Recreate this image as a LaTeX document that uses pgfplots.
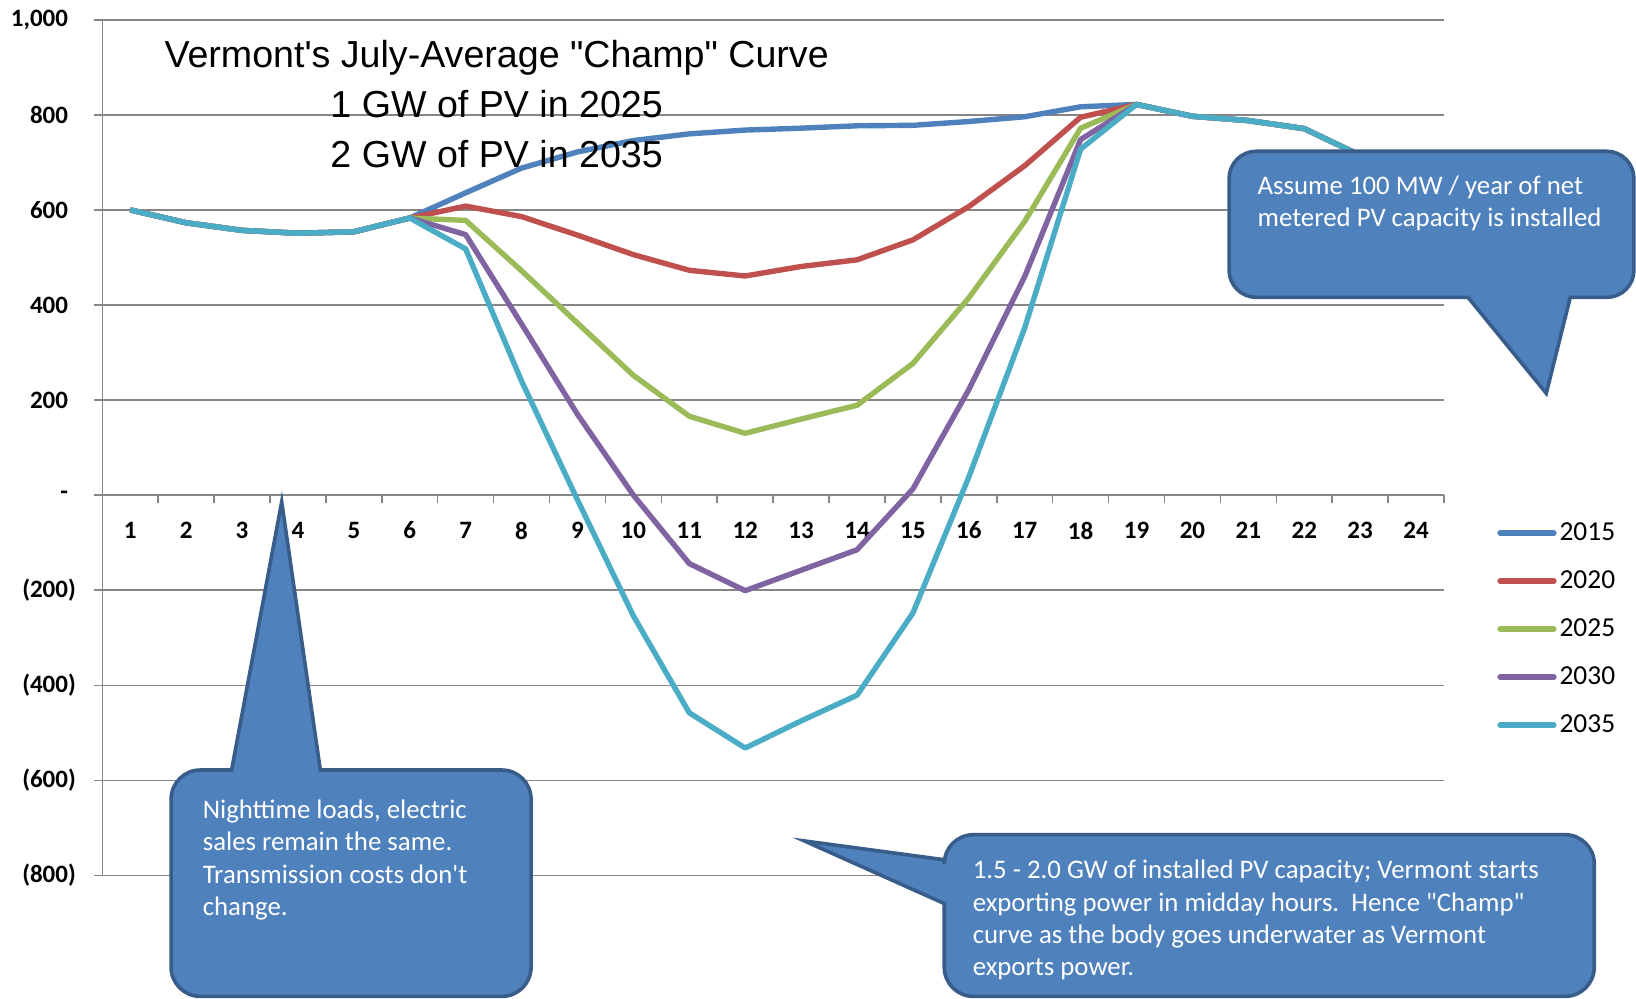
\documentclass[border=0pt]{standalone}
\usepackage{pgfplots}
\pgfplotsset{compat=1.18}
\usepackage{pgfplotstable}
\usepackage{fontspec}
\setmainfont{Carlito}
\newfontfamily\arialfont{Liberation Sans}

\definecolor{c2015}{HTML}{4F81BD}
\definecolor{c2020}{HTML}{C0504D}
\definecolor{c2025}{HTML}{9BBB59}
\definecolor{c2030}{HTML}{8064A2}
\definecolor{c2035}{HTML}{4BACC6}
\definecolor{gridgray}{HTML}{868686}
\definecolor{boxfill}{HTML}{4F81BD}
\definecolor{boxline}{HTML}{385D8A}

% hourly load (MW), July average
\pgfplotstableread{
h y2015 y2020 y2025 y2030 y2035
1 600 600 600 600 600
2 573 573 573 573 573
3 557 557 557 557 557
4 551 551 551 551 551
5 554 554 554 554 554
6 583 583 583 583 583
7 636 608 578 548 518
8 688 586 472 360 240
9 722 547 362 170 -10
10 746 506 252 0 -254
11 760 473 166 -144 -458
12 768 461 130 -201 -532
13 772 481 160 -158 -475
14 777 495 189 -115 -421
15 778 537 277 13 -248
16 786 607 415 222 38
17 796 693 576 460 352
18 817 795 772 748 728
19 822 822 822 822 822
20 797 797 797 797 797
21 788 788 788 788 788
22 771 771 771 771 771
23 715 715 715 715 715
24 650 650 650 650 650
}\loads

\begin{document}
\begin{tikzpicture}
\begin{axis}[
  at={(51.13pt,61.56pt)}, anchor=south west,
  scale only axis, width=670.9pt, height=427.8pt,
  clip=false,
  xmin=0.5, xmax=24.5, ymin=-800, ymax=1000,
  axis x line*=middle, axis y line*=left,
  axis line style={draw=gridgray, line width=0.75pt},
  tick align=outside,
  major tick length=4.2pt, minor tick length=3.8pt,
  xtick={1,...,24},
  xticklabels={1,2,3,4,5,6,7,8,9,10,11,12,13,14,15,16,17,18,19,20,21,22,23,24},
  minor xtick={0.5,1.5,...,24.5},
  major x tick style={draw=none},
  minor x tick style={draw=gridgray, line width=0.75pt},
  ytick={-800,-600,...,1000},
  yticklabels={{(800)},{(600)},{(400)},{(200)},{-\hphantom{)}},{200\hphantom{)}},{400\hphantom{)}},{600\hphantom{)}},{800\hphantom{)}},{1,000\hphantom{)}}},
  ytick style={draw=gridgray, line width=0.75pt},
  ymajorgrids=true,
  grid style={draw=gridgray, line width=0.75pt},
  ticklabel style={font=\bfseries\fontsize{12.5}{15}\selectfont, inner sep=0pt},
  xticklabel style={anchor=center, yshift=-13.5pt},
  yticklabel style={anchor=east, xshift=-8.8pt},
  every axis plot/.append style={line width=2.7pt, line join=round, mark=none},
  legend image code/.code={\draw[line width=2.6pt, line cap=round] (0pt,0pt) -- (27pt,0pt);},
  legend cell align=left,
  legend style={draw=none, fill=none, at={(1.0350,0.2880)}, anchor=west,
    font=\fontsize{13.7}{16}\selectfont,
    nodes={inner sep=1.5pt, minimum height=24pt}, row sep=0pt},
]
\addplot[c2015] table[x=h, y=y2015] {\loads};
\addlegendentry{2015}
\addplot[c2020] table[x=h, y=y2020] {\loads};
\addlegendentry{2020}
\addplot[c2025] table[x=h, y=y2025] {\loads};
\addlegendentry{2025}
\addplot[c2030] table[x=h, y=y2030] {\loads};
\addlegendentry{2030}
\addplot[c2035] table[x=h, y=y2035] {\loads};
\addlegendentry{2035}
\end{axis}

\begin{scope}[x=0.5217pt, y=0.5217pt]
  % title
  \node[align=center, font=\arialfont\fontsize{18.8}{25}\selectfont] at (476,857)
    {Vermont\textquotesingle s July-Average \textquotedbl Champ\textquotedbl{} Curve\\1 GW of PV in 2025\\2 GW of PV in 2035};

  \tikzset{callout/.style={fill=boxfill, draw=boxline, line width=1.8pt, line join=miter}}
  \tikzset{callouttext/.style={anchor=north west, align=left, text=white, inner sep=0pt,
    font=\fontsize{13.4}{16.2}\selectfont}}

  % top right callout, pointer downwards
  \def\r{26}
  \path[callout] (1482,580) -- (1407,672) -- (1178+\r,672)
    arc[start angle=270, end angle=180, radius=\r] -- (1178,812-\r)
    arc[start angle=180, end angle=90, radius=\r] -- (1566-\r,812)
    arc[start angle=90, end angle=0, radius=\r] -- (1566,672+\r)
    arc[start angle=0, end angle=-90, radius=\r] -- (1505,672) -- cycle;
  \node[callouttext] at (1205,789) {Assume 100 MW / year of net\\metered PV capacity is installed};

  % bottom left callout, pointer upwards
  \def\r{28}
  \path[callout] (270,476) -- (307,219) -- (509-\r,219)
    arc[start angle=90, end angle=0, radius=\r] -- (509,2+\r)
    arc[start angle=0, end angle=-90, radius=\r] -- (164+\r,2)
    arc[start angle=270, end angle=180, radius=\r] -- (164,219-\r)
    arc[start angle=180, end angle=90, radius=\r] -- (222,219) -- cycle;
  \node[callouttext] at (194,191) {Nighttime loads, electric\\sales remain the same.\\Transmission costs don\textquotesingle t\\change.};

  % bottom right callout, pointer to the left
  \def\r{28}
  \path[callout] (771,151) -- (905,133) -- (905,157-\r)
    arc[start angle=180, end angle=90, radius=\r] -- (1528-\r,157)
    arc[start angle=90, end angle=0, radius=\r] -- (1528,2+\r)
    arc[start angle=0, end angle=-90, radius=\r] -- (905+\r,2)
    arc[start angle=270, end angle=180, radius=\r] -- (905,91) -- cycle;
  \node[callouttext] at (932,133) {1.5 - 2.0 GW of installed PV capacity; Vermont starts\\exporting power in midday hours.\ \ Hence \textquotedbl Champ\textquotedbl\\curve as the body goes underwater as Vermont\\exports power.};

  \pgfresetboundingbox
  \path[use as bounding box] (0,0) rectangle (1568,957);
\end{scope}
\end{tikzpicture}
\end{document}
